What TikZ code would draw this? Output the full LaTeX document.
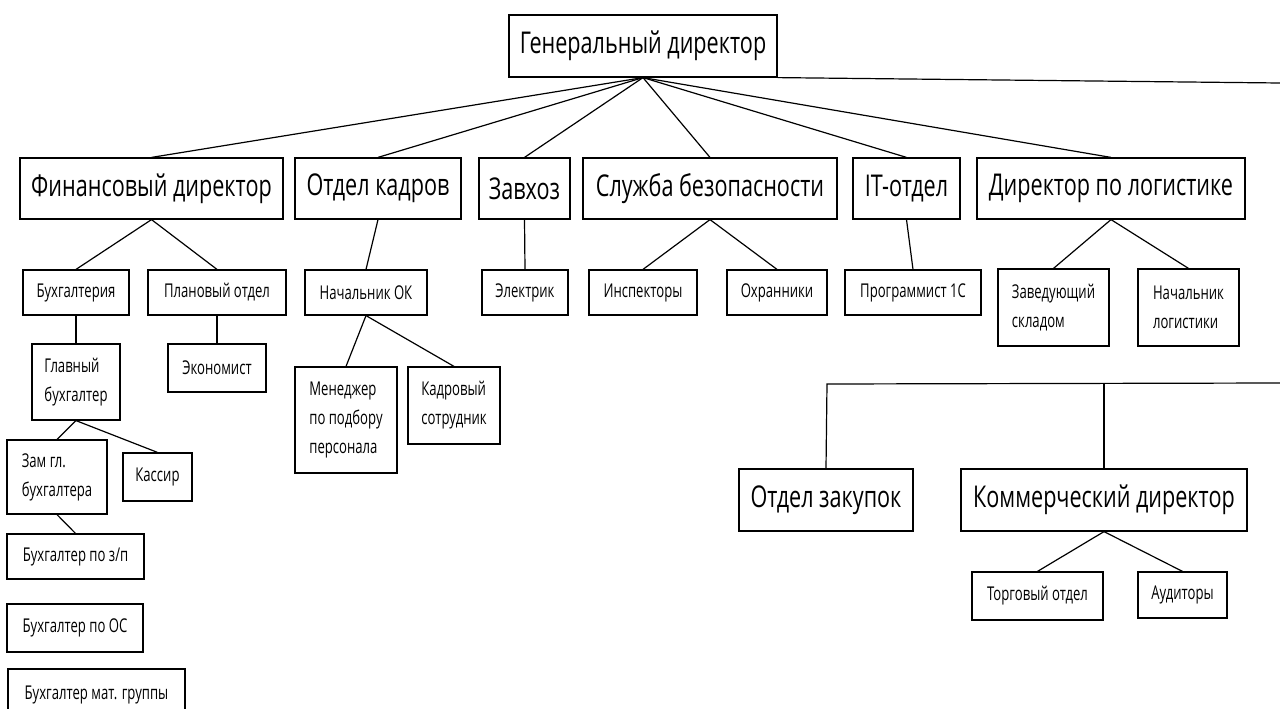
\documentclass[tikz,border=0pt]{standalone}
\usepackage{fontspec}
\setmainfont{Open Sans}[FakeStretch=0.7]
\newfontfamily\bigf{Open Sans}[FakeStretch=0.72]
\newfontfamily\smallf{Open Sans}[FakeStretch=0.69]
\begin{document}
\begin{tikzpicture}[x=1pt,y=-1pt,
  box/.style={draw, line width=1.2pt, inner sep=0pt, align=left,
    font=\smallf\fontsize{19}{29}\selectfont},
  big/.style={box, font=\bigf\fontsize{30}{34}\selectfont},
  conn/.style={line width=1.2pt}]
\useasboundingbox (0,0) rectangle (1280,709);
\clip (0,0) rectangle (1280,709);
\fill[white] (0,0) rectangle (1280,709);
% level 0
\node[big, minimum width=268, minimum height=62] (gen) at (643,46) {Генеральный директор};
% level 1
\node[big, minimum width=263, minimum height=61] (fin) at (151.5,188.5) {Финансовый директор};
\node[big, minimum width=166, minimum height=61] (hr) at (378,188.5) {Отдел кадров};
\node[big, minimum width=91, minimum height=61] (zav) at (524.5,188.5) {Завхоз};
\node[big, minimum width=254, minimum height=61] (sb) at (710,188.5) {Служба безопасности};
\node[big, minimum width=107, minimum height=61] (it) at (906.5,188.5) {IT-отдел};
\node[big, minimum width=268, minimum height=61] (log) at (1111,188.5) {Директор по логистике};
% level 2
\node[box, minimum width=106, minimum height=45] (buh) at (76,292.5) {Бухгалтерия};
\node[box, minimum width=138, minimum height=45] (plan) at (217,292.5) {Плановый отдел};
\node[box, minimum width=122, minimum height=45] (nok) at (366,292.5) {Начальник ОК};
\node[box, minimum width=86, minimum height=45] (el) at (525,292.5) {Электрик};
\node[box, minimum width=108, minimum height=45] (insp) at (643,292.5) {Инспекторы};
\node[box, minimum width=100, minimum height=45] (ohr) at (777,292.5) {Охранники};
\node[box, minimum width=136, minimum height=45] (prog) at (913,292.5) {Программист 1С};
\node[box, minimum width=111, minimum height=77] (zavskl) at (1053.5,307.5) {Заведующий\\складом};
\node[box, minimum width=101, minimum height=77] (nachlog) at (1188.5,307.5) {Начальник\\логистики};
% level 3
\node[box, minimum width=88, minimum height=76] (glbuh) at (76,382) {Главный\\бухгалтер};
\node[box, minimum width=98, minimum height=48] (econ) at (217,368) {Экономист};
\node[box, minimum width=102, minimum height=106] (men) at (346,420) {Менеджер\\по подбору\\персонала};
\node[box, minimum width=92, minimum height=77] (kadr) at (454,405.5) {Кадровый\\сотрудник};
\node[box, minimum width=100, minimum height=74] (zam) at (57,477) {Зам гл.\\бухгалтера};
\node[box, minimum width=69, minimum height=48] (kas) at (157.5,477) {Кассир};
\node[box, minimum width=137, minimum height=45] (bzp) at (75.5,556.5) {Бухгалтер по з/п};
\node[box, minimum width=136, minimum height=48] (bos) at (75,628) {Бухгалтер по ОС};
\node[box, minimum width=177, minimum height=47, text depth=0pt] (bmat) at (96.5,692.5) {Бухгалтер мат. группы};
% lower right
\node[big, minimum width=174, minimum height=62] (zak) at (826,500) {Отдел закупок};
\node[big, minimum width=286, minimum height=62] (kom) at (1104,500) {Коммерческий директор};
\node[box, minimum width=131, minimum height=48] (torg) at (1037.5,596) {Торговый отдел};
\node[box, minimum width=89, minimum height=46] (aud) at (1182.5,595) {Аудиторы};
% connectors
\coordinate (gright) at (1280,83);
\coordinate (bl) at (827,384);
\coordinate (br) at (1280,383);
\coordinate (bm) at (1104,384);
\foreach \t in {fin,hr,zav,sb,it,log} \draw[conn] (gen.south) -- (\t.north);
\draw[conn] (gen.south east) -- (gright);
\draw[conn] (fin.south) -- (buh.north);
\draw[conn] (fin.south) -- (plan.north);
\draw[conn] (hr.south) -- (nok.north);
\draw[conn] (zav.south) -- (el.north);
\draw[conn] (sb.south) -- (insp.north);
\draw[conn] (sb.south) -- (ohr.north);
\draw[conn] (it.south) -- (prog.north);
\draw[conn] (log.south) -- (zavskl.north);
\draw[conn] (log.south) -- (nachlog.north);
\draw[conn] (buh.south) -- (glbuh.north);
\draw[conn] (plan.south) -- (econ.north);
\draw[conn] (nok.south) -- (men.north);
\draw[conn] (nok.south) -- (kadr.north);
\draw[conn] (glbuh.south) -- (zam.north);
\draw[conn] (glbuh.south) -- (kas.north);
\draw[conn] (zam.south) -- (bzp.north);
\draw[conn] (br) -- (bl) -- (zak.north);
\draw[conn] (bm) -- (kom.north);
\draw[conn] (kom.south) -- (torg.north);
\draw[conn] (kom.south) -- (aud.north);
\end{tikzpicture}
\end{document}
